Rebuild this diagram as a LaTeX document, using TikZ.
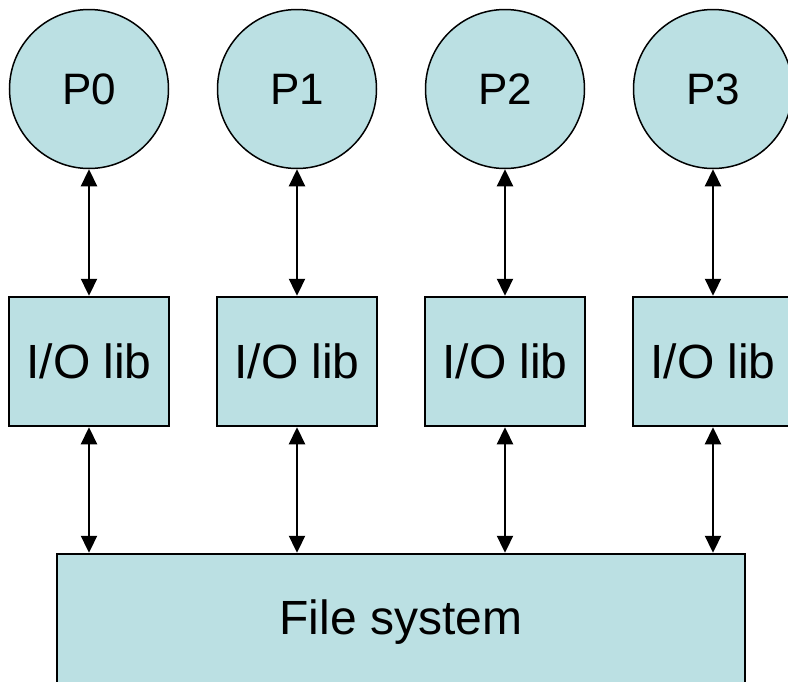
\documentclass[tikz,border=0pt]{standalone}
\usepackage{fontspec}
\setmainfont{Liberation Sans}
\usetikzlibrary{arrows.meta}
\definecolor{boxfill}{HTML}{BBE0E3}
\tikzset{
  proc/.style={circle, draw=black, line width=1.5pt, fill=boxfill,
    minimum size=159pt, inner sep=0pt, font=\fontsize{44}{52}\selectfont},
  libbox/.style={rectangle, draw=black, line width=2.5pt, fill=boxfill,
    minimum width=160pt, minimum height=129pt, inner sep=0pt,
    font=\fontsize{48}{56}\selectfont},
  fsbox/.style={rectangle, draw=black, line width=2.5pt, fill=boxfill,
    minimum width=688pt, minimum height=134pt, inner sep=0pt},
  link/.style={line width=2.3pt, {Triangle[length=17pt,width=16pt]}-{Triangle[length=17pt,width=16pt]}}
}
\begin{document}
\begin{tikzpicture}[x=1pt, y=-1pt]
  \useasboundingbox (0,0) rectangle (788,681);
  \begin{scope}
    \clip (0,0) rectangle (788,681);
    % processes, I/O libraries and the shared file system
    \foreach \i/\x in {0/89, 1/297, 2/505, 3/713} {
      \node[proc] (p\i) at (\x, 89) {P\i};
      \node[libbox] (b\i) at (\x, 361.5) {I/O lib};
    }
    \node[fsbox] (fs) at (401, 621) {};
    \node[font=\fontsize{48}{56}\selectfont] (fslabel) at (401, 622) {File system};
    % two-way links
    \foreach \i in {0,1,2,3} {
      \draw[link] (p\i.south) -- (b\i.north);
      \coordinate (fs\i) at (b\i.south |- fs.north);
      \draw[link] (b\i.south) -- (fs\i);
    }
  \end{scope}
\end{tikzpicture}
\end{document}
